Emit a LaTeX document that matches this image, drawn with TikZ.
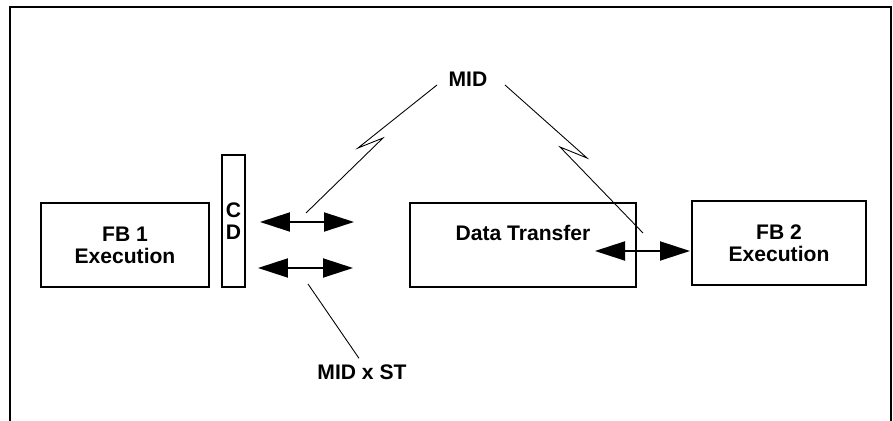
\documentclass[tikz,border=0pt]{standalone}
\usepackage{fontspec}
\setmainfont{Liberation Sans}
\usetikzlibrary{arrows.meta, positioning}

\begin{document}
\begin{tikzpicture}[x=0.02cm, y=-0.02cm, >={Triangle[length=0.6cm, width=0.38cm]},
    txt/.style={font=\fontsize{12}{12.5}\selectfont\bfseries, align=center},
    box/.style={txt, draw, line width=1.2pt, inner sep=0pt},
    link/.style={line width=0.5pt},
    dbl/.style={<->, line width=1.1pt}]
    \def\bh{1.68cm}
    \useasboundingbox (0,0) rectangle (893,421);
    % Frame (open at the bottom)
    \draw[line width=1pt] (10,421) |- (891,7) -- (891,421);
    % Blocks
    \node[box, minimum width=3.36cm, minimum height=\bh] (fbone) at (125,245) {FB 1\\Execution};
    \node[box, minimum width=0.46cm, minimum height=2.64cm] (cd) at (233.5,221) {C\\D};
    \node[box, minimum width=4.52cm, minimum height=\bh] (dt) at (523,245) {};
    \node[txt] (dtlabel) at (523,233) {Data Transfer};
    \node[box, minimum width=3.48cm, minimum height=\bh] (fbtwo) at (779,243) {FB 2\\Execution};
    % Labels
    \node[txt] (mid) at (468,79) {MID};
    \node[txt] (midst) at (362,372) {MID x ST};
    % Arrow ends
    \coordinate (upL) at (260,222);  \coordinate (upR) at (354,222);
    \coordinate (loL) at (258,268);  \coordinate (loR) at (353,268);
    \coordinate (dtR) at (595,251);  \coordinate (fbR) at (690,251);
    % Double arrows
    \draw[dbl] (upL) -- (upR);
    \draw[dbl] (loL) -- (loR);
    \draw[dbl] (dtR) -- (fbR);
    % Lightning links from MID
    \coordinate (midL) at (437,85);  \coordinate (midR) at (505,85);
    \coordinate (zigL) at (306,213); \coordinate (zigR) at (643,233);
    \draw[link] (midL) -- (358,148) -- (383,138) -- (zigL);
    \draw[link] (midR) -- (587,158) -- (560,147) -- (zigR);
    % Link to MID x ST
    \coordinate (stTop) at (308,284);
    \draw[link] (stTop) -- ([xshift=-0.06cm]midst.north);
\end{tikzpicture}
\end{document}
